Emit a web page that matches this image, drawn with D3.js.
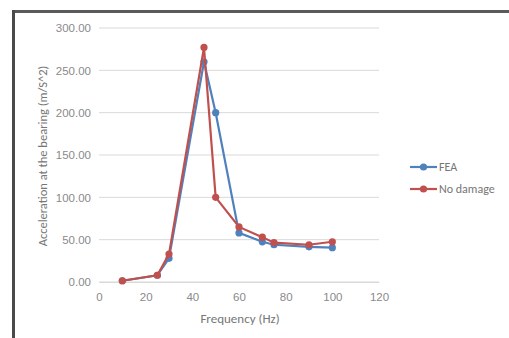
<!DOCTYPE html>
<html>
<head>
<meta charset="utf-8">
<script src="https://cdn.jsdelivr.net/npm/d3@7"></script>
<style>
  body { margin: 0; background: #fff; }
  svg { display: block; font-family: Calibri, "Liberation Sans", "Open Sans", sans-serif; }
</style>
</head>
<body>
<svg id="chart" width="509" height="338"></svg>
<script>
// data
const freq = [10, 25, 30, 45, 50, 60, 70, 75, 90, 100];
const feaValues = [1.5, 8, 28, 260, 200, 58, 47.5, 44, 41.5, 40.5];
const noDamageValues = [1.5, 8, 33, 277, 100, 65, 53, 46.5, 44, 47.5];
const seriesNames = ["FEA", "No damage"];
const seriesColors = ["#4F81BD", "#C0504D"];
const xTicks = [0, 20, 40, 60, 80, 100, 120];
const yTicks = [0, 50, 100, 150, 200, 250, 300];

const svg = d3.select("#chart");

// frame of the screenshot (dark top and left edges)
svg.append("rect").attr("x", 12).attr("y", 10).attr("width", 497).attr("height", 3).attr("fill", "#5a5a5a");
svg.append("rect").attr("x", 12).attr("y", 10).attr("width", 3).attr("height", 328).attr("fill", "#4a4a4a");

const margin = { left: 99, right: 379, top: 28, bottom: 282 };

const x = d3.scaleLinear().domain([0, 120]).range([margin.left, margin.right]);
const y = d3.scaleLinear().domain([0, 300]).range([margin.bottom, margin.top]);

// gridlines
svg.append("g")
  .selectAll("line")
  .data(yTicks)
  .enter()
  .append("line")
  .attr("x1", margin.left)
  .attr("x2", margin.right)
  .attr("y1", d => y(d))
  .attr("y2", d => y(d))
  .attr("stroke", "#d9d9d9")
  .attr("stroke-width", 1);

// y axis
const yAxis = svg.append("g")
  .attr("transform", `translate(${margin.left},0)`)
  .call(d3.axisLeft(y).tickValues(yTicks).tickFormat(d3.format(".2f")).tickSize(0).tickPadding(8));
yAxis.select(".domain").remove();
yAxis.selectAll("text").attr("fill", "#8a8a8a").style("font-size", "11.5px");

// x axis
const xAxis = svg.append("g")
  .attr("transform", `translate(0,${margin.bottom})`)
  .call(d3.axisBottom(x).tickValues(xTicks).tickSize(0).tickPadding(11));
xAxis.select(".domain").attr("stroke", "#d9d9d9");
xAxis.selectAll("text").attr("fill", "#8a8a8a").style("font-size", "11.5px");

// axis titles
svg.append("text")
  .attr("x", 240)
  .attr("y", 323)
  .attr("text-anchor", "middle")
  .attr("fill", "#767676")
  .style("font-size", "13px")
  .text("Frequency (Hz)");

svg.append("text")
  .attr("transform", `translate(47,156) rotate(-90)`)
  .attr("text-anchor", "middle")
  .attr("fill", "#767676")
  .style("font-size", "12.5px")
  .text("Acceleration at the bearing (m/S^2)");

// series
const series = [feaValues, noDamageValues];
const line = d3.line().x(d => x(d[0])).y(d => y(d[1]));

series.forEach((vals, i) => {
  const pts = freq.map((f, j) => [f, vals[j]]);
  svg.append("path")
    .datum(pts)
    .attr("d", line)
    .attr("fill", "none")
    .attr("stroke", seriesColors[i])
    .attr("stroke-width", 2.2);
  svg.append("g")
    .selectAll("circle")
    .data(pts)
    .enter()
    .append("circle")
    .attr("cx", d => x(d[0]))
    .attr("cy", d => y(d[1]))
    .attr("r", 3.6)
    .attr("fill", seriesColors[i]);
});

// legend
const legend = svg.append("g");
seriesNames.forEach((name, i) => {
  const ly = 167 + i * 22;
  legend.append("line")
    .attr("x1", 410).attr("x2", 437)
    .attr("y1", ly).attr("y2", ly)
    .attr("stroke", seriesColors[i]).attr("stroke-width", 2.2);
  legend.append("circle")
    .attr("cx", 423.5).attr("cy", ly).attr("r", 3.6)
    .attr("fill", seriesColors[i]);
  legend.append("text")
    .attr("x", 439).attr("y", ly + 4)
    .attr("fill", "#767676")
    .style("font-size", "12px")
    .text(name);
});
</script>
</body>
</html>
